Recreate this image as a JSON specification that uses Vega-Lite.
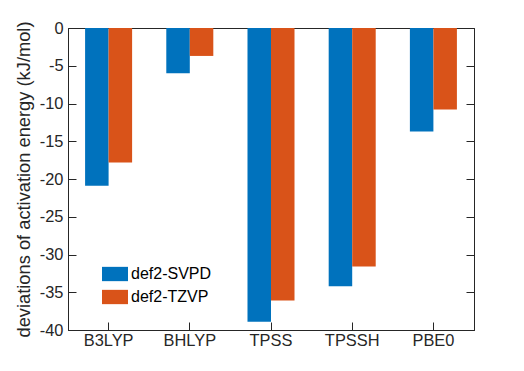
{
  "$schema": "https://vega.github.io/schema/vega-lite/v6.json",
  "autosize": {"type": "none"},
  "width": 406,
  "height": 302,
  "padding": {"left": 68, "top": 28, "right": 50, "bottom": 41},
  "background": "white",
  "config": {
    "font": "Liberation Sans",
    "view": {"stroke": "#262626", "strokeWidth": 1},
    "axis": {"grid": false, "domainColor": "#262626", "tickColor": "#262626", "labelColor": "#262626", "titleColor": "#262626", "labelFont": "Liberation Sans", "titleFont": "Liberation Sans", "labelFontSize": 16.4, "titleFontSize": 18.3, "titleFontWeight": "normal", "labelOverlap": false}
  },
  "data": {"values": [
    {"method": "B3LYP", "basis": "def2-SVPD", "value": -20.9},
    {"method": "B3LYP", "basis": "def2-TZVP", "value": -17.8},
    {"method": "BHLYP", "basis": "def2-SVPD", "value": -6.0},
    {"method": "BHLYP", "basis": "def2-TZVP", "value": -3.7},
    {"method": "TPSS", "basis": "def2-SVPD", "value": -38.9},
    {"method": "TPSS", "basis": "def2-TZVP", "value": -36.1},
    {"method": "TPSSH", "basis": "def2-SVPD", "value": -34.2},
    {"method": "TPSSH", "basis": "def2-TZVP", "value": -31.6},
    {"method": "PBE0", "basis": "def2-SVPD", "value": -13.7},
    {"method": "PBE0", "basis": "def2-TZVP", "value": -10.8}
  ]},
  "encoding": {
    "x": {"field": "method", "type": "nominal", "sort": ["B3LYP", "BHLYP", "TPSS", "TPSSH", "PBE0"],
      "scale": {"paddingInner": 0, "paddingOuter": 0},
      "axis": {"title": null, "labelAngle": 0, "tickSize": -8, "labelPadding": 10, "domain": true}},
    "xOffset": {"field": "basis", "type": "nominal", "scale": {"paddingInner": 0, "paddingOuter": 0.727}},
    "y": {"field": "value", "type": "quantitative", "scale": {"domain": [-40, 0], "nice": false}},
    "color": {"field": "basis", "type": "nominal", "scale": {"domain": ["def2-SVPD", "def2-TZVP"], "range": ["#0072BD", "#D95319"]}}
  },
  "layer": [
    {
      "mark": {"type": "bar"},
      "encoding": {
        "y": {"field": "value", "type": "quantitative", "scale": {"domain": [-40, 0], "nice": false},
          "axis": {"title": "deviations of activation energy (kJ/mol)", "values": [0, -5, -10, -15, -20, -25, -30, -35, -40], "labelExpr": "replace(datum.label, '\u2212', '-')", "tickSize": -8, "labelPadding": 13, "titlePadding": 6}},
        "color": {"field": "basis", "type": "nominal", "scale": {"domain": ["def2-SVPD", "def2-TZVP"], "range": ["#0072BD", "#D95319"]},
          "legend": {"title": null, "orient": "none", "legendX": 34, "legendY": 233, "symbolType": "M-1,-0.55L1,-0.55L1,0.55L-1,0.55Z", "symbolSize": 676, "symbolStrokeWidth": 0, "labelFontSize": 16, "labelColor": "#000000", "labelFont": "Liberation Sans", "rowPadding": 2, "labelOffset": 3}}
      }
    },
    {
      "mark": {"type": "bar", "opacity": 0},
      "encoding": {
        "y": {"field": "value", "type": "quantitative", "scale": {"domain": [-40, 0], "nice": false},
          "axis": {"orient": "right", "title": null, "labels": false, "values": [0, -5, -10, -15, -20, -25, -30, -35, -40], "tickSize": -8}}
      }
    }
  ],
  "resolve": {"axis": {"y": "independent"}}
}
